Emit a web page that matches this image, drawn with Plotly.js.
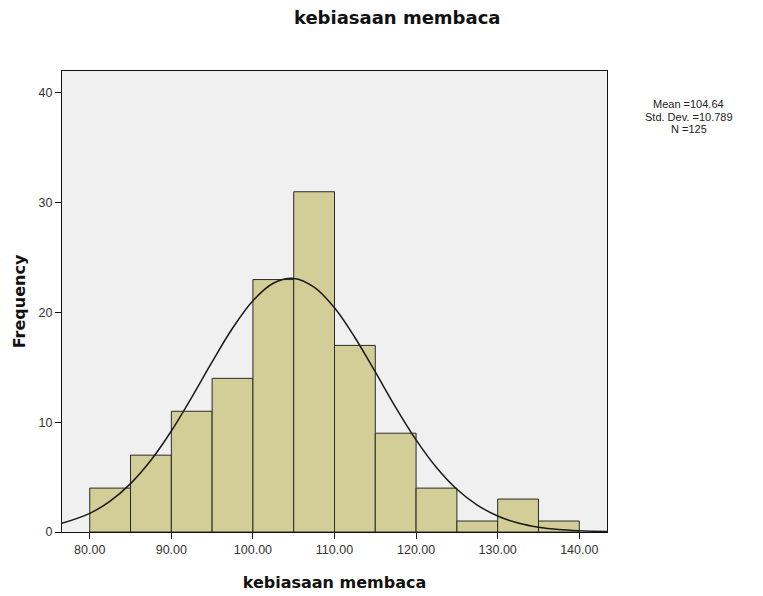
<!DOCTYPE html>
<html>
<head>
<meta charset="utf-8">
<script src="https://cdn.plot.ly/plotly-3.0.1.min.js"></script>
<style>html,body{margin:0;padding:0;background:#fff;}#chart{width:763px;height:596px;}</style>
</head>
<body>
<div id="chart"></div>
<script>
// Histogram bins (lower edge) and frequencies
const binStart = [80, 85, 90, 95, 100, 105, 110, 115, 120, 125, 130, 135];
const binWidth = 5;
const frequency = [4, 7, 11, 14, 23, 31, 17, 9, 4, 1, 3, 1];

// Normal curve
const curveX = [76.6, 80, 82.5, 85, 87.5, 90, 92.5, 95, 97.5, 100, 102.5, 105, 107.5, 110, 112.5, 115, 117.5, 120, 122.5, 125, 127.5, 130, 132.5, 135, 137.5, 140, 143.4];
const curveY = [0.79, 1.70, 2.81, 4.41, 6.54, 9.20, 12.27, 15.50, 18.56, 21.07, 22.66, 23.10, 22.31, 20.43, 17.72, 14.58, 11.36, 8.39, 5.87, 3.89, 2.45, 1.46, 0.82, 0.44, 0.22, 0.11, 0.04];

// Tick labels
const xTickVals = [80, 90, 100, 110, 120, 130, 140];
const xTickText = ["80.00", "90.00", "100.00", "110.00", "120.00", "130.00", "140.00"];
const yTickVals = [0, 10, 20, 30, 40];

const statsLines = ["Mean =104.64", "Std. Dev. =10.789", "N =125"];

const fontFam = "Liberation Sans, Arial, sans-serif";
const boldFam = "DejaVu Sans, sans-serif";

const traces = [
  {
    type: "bar",
    x: binStart,
    y: frequency,
    width: binWidth,
    offset: 0,
    marker: {color: "#d3ce97", line: {color: "#2a2a2a", width: 1}},
    hoverinfo: "x+y",
    showlegend: false
  },
  {
    type: "scatter",
    mode: "lines",
    x: curveX,
    y: curveY,
    line: {color: "#1a1a1a", width: 1.5, shape: "spline"},
    showlegend: false
  }
];

const annotations = statsLines.map((t, i) => ({
  text: t,
  xref: "paper", yref: "paper",
  x: 1.15, y: 1,
  yshift: -33 - i * 12.5,
  xanchor: "center", yanchor: "middle",
  align: "center",
  showarrow: false,
  font: {family: fontFam, size: 11, color: "#222"}
}));

const layout = {
  width: 763,
  height: 596,
  margin: {l: 62, r: 156, t: 71, b: 64},
  paper_bgcolor: "#ffffff",
  plot_bgcolor: "#f0f0f0",
  font: {family: fontFam, size: 12, color: "#222"},
  bargap: 0,
  title: {
    text: "<b>kebiasaan membaca</b>",
    font: {family: boldFam, size: 18, color: "#111"},
    x: 0.615, xref: "paper", xanchor: "center",
    y: 0.97, yref: "container", yanchor: "middle"
  },
  xaxis: {
    range: [76.6, 143.4],
    tickvals: xTickVals,
    ticktext: xTickText,
    ticks: "outside",
    ticklen: 6,
    tickcolor: "#111",
    tickwidth: 1,
    showline: true,
    linecolor: "#111",
    linewidth: 1,
    mirror: true,
    showgrid: false,
    zeroline: false,
    tickfont: {family: fontFam, size: 12.5, color: "#333"},
    title: {text: "<b>kebiasaan membaca</b>", font: {family: boldFam, size: 16, color: "#111"}, standoff: 20}
  },
  yaxis: {
    range: [0, 42],
    tickvals: yTickVals,
    ticks: "outside",
    ticklen: 6,
    tickcolor: "#111",
    tickwidth: 1,
    showline: true,
    linecolor: "#111",
    linewidth: 1,
    mirror: true,
    showgrid: false,
    zeroline: false,
    tickfont: {family: fontFam, size: 12.5, color: "#333"},
    title: {text: "<b>Frequency</b>", font: {family: boldFam, size: 16, color: "#111"}, standoff: 8}
  },
  annotations: annotations
};

Plotly.newPlot("chart", traces, layout, {displayModeBar: false, staticPlot: true});
</script>
</body>
</html>
